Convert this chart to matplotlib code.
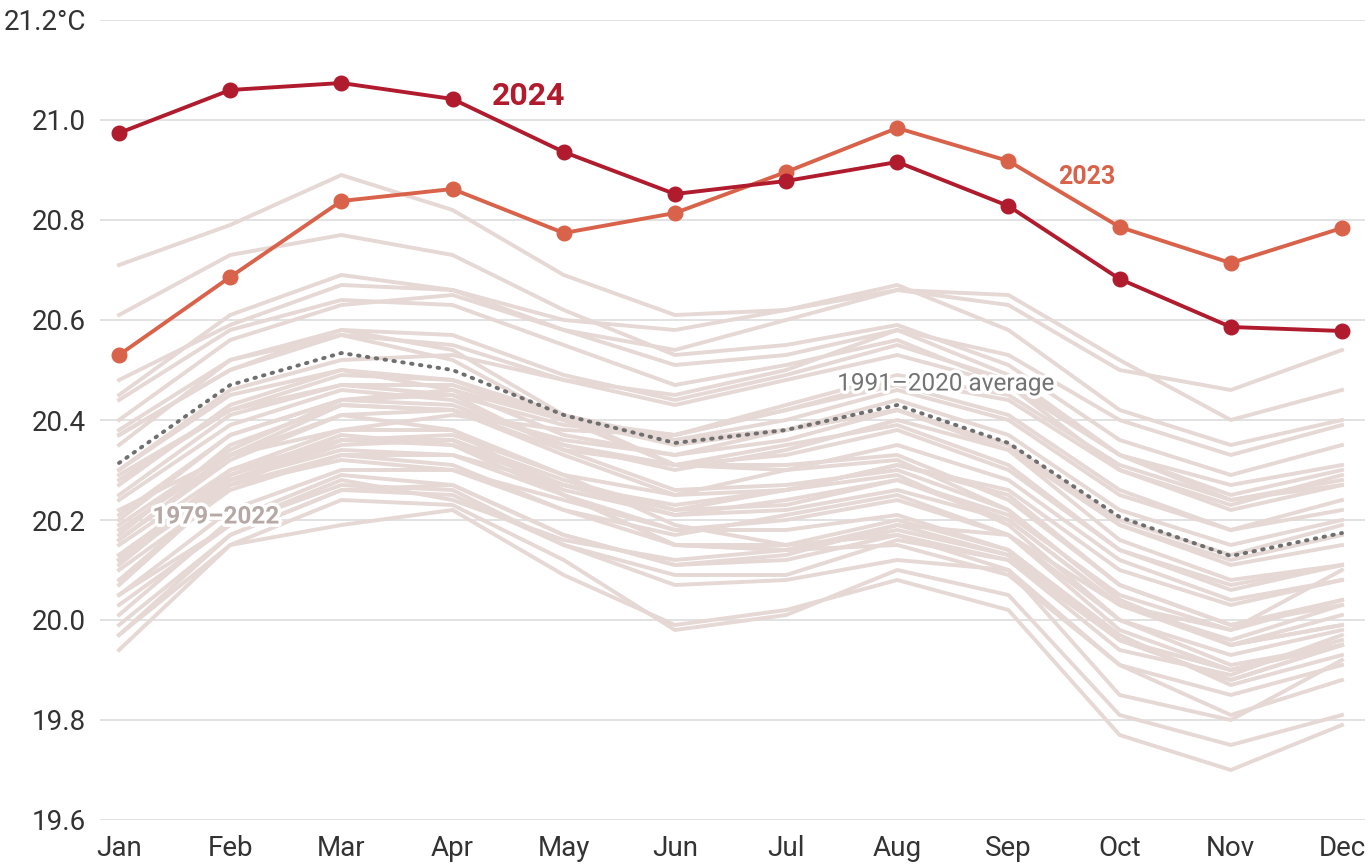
import matplotlib
matplotlib.use("Agg")
import matplotlib.pyplot as plt
import matplotlib.patheffects as pe

months = ["Jan", "Feb", "Mar", "Apr", "May", "Jun", "Jul", "Aug", "Sep", "Oct", "Nov", "Dec"]

y2024 = [20.974, 21.060, 21.074, 21.042, 20.936, 20.852, 20.878, 20.916, 20.828, 20.682, 20.586, 20.578]
y2023 = [20.530, 20.686, 20.838, 20.862, 20.774, 20.814, 20.896, 20.984, 20.918, 20.786, 20.714, 20.784]
avg_1991_2020 = [20.314, 20.470, 20.534, 20.500, 20.410, 20.354, 20.380, 20.430, 20.354, 20.206, 20.128, 20.174]

years_hist = list(range(1979, 2023))
hist = [
    [19.97, 20.17, 20.26, 20.25, 20.15, 20.07, 20.08, 20.12, 20.10, 19.85, 19.80, 19.92],  # 1979
    [20.05, 20.22, 20.30, 20.30, 20.22, 20.15, 20.14, 20.18, 20.13, 19.96, 19.88, 19.95],
    [20.01, 20.20, 20.29, 20.27, 20.17, 20.11, 20.12, 20.17, 20.12, 19.94, 19.89, 19.97],
    [20.03, 20.19, 20.28, 20.24, 20.16, 20.12, 20.14, 20.19, 20.17, 20.03, 19.98, 20.10],
    [20.22, 20.33, 20.38, 20.38, 20.29, 20.19, 20.15, 20.17, 20.10, 19.91, 19.81, 19.88],
    [19.97, 20.15, 20.19, 20.22, 20.09, 19.99, 20.02, 20.08, 20.02, 19.77, 19.70, 19.79],  # 1984
    [19.94, 20.15, 20.24, 20.23, 20.12, 19.98, 20.01, 20.10, 20.05, 19.81, 19.75, 19.81],
    [20.05, 20.19, 20.27, 20.26, 20.15, 20.09, 20.09, 20.16, 20.12, 19.96, 19.90, 19.96],
    [20.13, 20.29, 20.37, 20.35, 20.27, 20.23, 20.26, 20.31, 20.26, 20.10, 20.03, 20.08],
    [20.16, 20.33, 20.41, 20.38, 20.25, 20.15, 20.15, 20.20, 20.14, 19.97, 19.87, 19.93],
    [19.99, 20.17, 20.26, 20.27, 20.17, 20.11, 20.13, 20.19, 20.13, 19.96, 19.88, 19.95],
    [20.08, 20.27, 20.36, 20.36, 20.28, 20.22, 20.23, 20.28, 20.20, 20.03, 19.95, 20.01],  # 1990
    [20.13, 20.28, 20.35, 20.36, 20.26, 20.21, 20.22, 20.26, 20.20, 20.03, 19.96, 20.03],
    [20.15, 20.30, 20.36, 20.35, 20.25, 20.15, 20.14, 20.15, 20.09, 19.91, 19.85, 19.91],
    [20.10, 20.26, 20.33, 20.33, 20.25, 20.18, 20.18, 20.21, 20.14, 19.96, 19.90, 19.95],
    [20.11, 20.29, 20.36, 20.36, 20.27, 20.21, 20.24, 20.28, 20.21, 20.05, 19.98, 20.04],
    [20.18, 20.33, 20.43, 20.42, 20.33, 20.25, 20.26, 20.29, 20.19, 20.00, 19.91, 19.95],
    [20.07, 20.27, 20.32, 20.30, 20.24, 20.18, 20.20, 20.24, 20.17, 19.98, 19.90, 19.95],
    [20.12, 20.30, 20.38, 20.41, 20.38, 20.37, 20.43, 20.49, 20.45, 20.31, 20.24, 20.27],
    [20.35, 20.52, 20.58, 20.54, 20.41, 20.31, 20.30, 20.32, 20.22, 20.04, 19.95, 19.99],
    [20.12, 20.27, 20.33, 20.31, 20.22, 20.17, 20.21, 20.25, 20.17, 20.00, 19.93, 19.98],
    [20.12, 20.28, 20.34, 20.33, 20.27, 20.22, 20.26, 20.31, 20.25, 20.07, 19.99, 20.03],  # 2000
    [20.20, 20.37, 20.44, 20.43, 20.35, 20.31, 20.33, 20.38, 20.30, 20.14, 20.07, 20.11],
    [20.25, 20.41, 20.47, 20.47, 20.40, 20.36, 20.38, 20.42, 20.35, 20.20, 20.13, 20.19],
    [20.30, 20.45, 20.50, 20.46, 20.37, 20.33, 20.36, 20.42, 20.35, 20.19, 20.11, 20.15],
    [20.24, 20.39, 20.46, 20.44, 20.35, 20.30, 20.34, 20.40, 20.34, 20.19, 20.12, 20.17],
    [20.28, 20.42, 20.49, 20.48, 20.40, 20.35, 20.38, 20.42, 20.34, 20.16, 20.08, 20.11],
    [20.17, 20.35, 20.43, 20.42, 20.36, 20.33, 20.38, 20.44, 20.37, 20.22, 20.15, 20.20],
    [20.29, 20.42, 20.47, 20.45, 20.34, 20.26, 20.27, 20.30, 20.22, 20.04, 19.95, 19.99],
    [20.12, 20.28, 20.36, 20.37, 20.29, 20.25, 20.30, 20.35, 20.28, 20.12, 20.04, 20.08],
    [20.19, 20.34, 20.44, 20.45, 20.39, 20.37, 20.42, 20.48, 20.44, 20.30, 20.23, 20.29],
    [20.38, 20.52, 20.57, 20.52, 20.40, 20.31, 20.31, 20.33, 20.24, 20.07, 19.99, 20.04],  # 2010
    [20.16, 20.32, 20.41, 20.42, 20.34, 20.31, 20.35, 20.39, 20.31, 20.14, 20.06, 20.11],
    [20.21, 20.37, 20.44, 20.46, 20.40, 20.37, 20.42, 20.47, 20.41, 20.26, 20.18, 20.22],
    [20.27, 20.43, 20.50, 20.48, 20.41, 20.36, 20.40, 20.46, 20.40, 20.25, 20.18, 20.24],
    [20.30, 20.46, 20.52, 20.53, 20.48, 20.45, 20.50, 20.58, 20.53, 20.40, 20.33, 20.39],
    [20.40, 20.56, 20.63, 20.65, 20.58, 20.54, 20.60, 20.66, 20.63, 20.50, 20.46, 20.54],
    [20.71, 20.79, 20.89, 20.82, 20.69, 20.61, 20.62, 20.67, 20.58, 20.42, 20.35, 20.40],
    [20.48, 20.59, 20.67, 20.66, 20.58, 20.51, 20.53, 20.58, 20.49, 20.33, 20.27, 20.31],
    [20.37, 20.50, 20.57, 20.55, 20.48, 20.43, 20.48, 20.53, 20.47, 20.33, 20.25, 20.30],
    [20.45, 20.61, 20.69, 20.66, 20.60, 20.58, 20.62, 20.66, 20.65, 20.52, 20.40, 20.46],
    [20.61, 20.73, 20.77, 20.73, 20.62, 20.53, 20.55, 20.59, 20.51, 20.36, 20.29, 20.35],  # 2020
    [20.37, 20.50, 20.58, 20.57, 20.49, 20.44, 20.49, 20.55, 20.48, 20.33, 20.24, 20.28],
    [20.44, 20.58, 20.64, 20.63, 20.55, 20.47, 20.51, 20.56, 20.47, 20.30, 20.22, 20.27],  # 2022
]

y_ticks = [19.6, 19.8, 20.0, 20.2, 20.4, 20.6, 20.8, 21.0, 21.2]
y_tick_labels = ["19.6", "19.8", "20.0", "20.2", "20.4", "20.6", "20.8", "21.0", "21.2°C"]

plt.rcParams["font.family"] = ["Roboto", "DejaVu Sans"]

fig = plt.figure(figsize=(13.72, 8.67), dpi=100)
ax = fig.add_axes([100 / 1372, 47 / 867, 1265 / 1372, 800 / 867])

x = list(range(len(months)))
grey = "#e5d8d5"
for row in hist:
    ax.plot(x, row, color=grey, lw=2.8, solid_joinstyle="round", zorder=2)

ax.plot(x, avg_1991_2020, color="#6f6f6f", lw=2.8, ls=(0, (0.4, 1.9)),
        dash_capstyle="round", zorder=3)

c2023 = "#d9634a"
c2024 = "#b01c2e"
ax.plot(x, y2023, color=c2023, lw=2.8, marker="o", ms=10.5, zorder=4)
ax.plot(x, y2024, color=c2024, lw=2.8, marker="o", ms=10.5, zorder=5)

halo = [pe.withStroke(linewidth=5, foreground="white")]
ax.text(3.35, 21.048, "2024", color=c2024, fontsize=23, fontweight="bold",
        ha="left", va="center", zorder=6)
ax.text(8.45, 20.885, "2023", color=c2023, fontsize=18, fontweight="bold",
        ha="left", va="center", zorder=6)
ax.text(6.46, 20.472, "1991–2020 average", color="#737373", fontsize=17.5,
        ha="left", va="center", zorder=6, path_effects=halo)
ax.text(0.3, 20.206, "1979–2022", color="#b5a8a5", fontsize=17.5, fontweight="bold",
        ha="left", va="center", zorder=6, path_effects=halo)

ax.set_xlim(-0.171, 11.207)
ax.set_ylim(19.6, 21.2)
ax.set_xticks(x)
ax.set_xticklabels(months)
ax.set_yticks(y_ticks)
ax.set_yticklabels(y_tick_labels)
ax.grid(axis="y", color="#dddddd", lw=1.2, zorder=0)
ax.grid(axis="x", visible=False)
for s in ax.spines.values():
    s.set_visible(False)
ax.tick_params(axis="both", length=0, labelsize=20, labelcolor="#333333")
ax.tick_params(axis="y", pad=10)
ax.tick_params(axis="x", pad=11)
ax.set_axisbelow(True)

fig.savefig("out.png", dpi=100)
